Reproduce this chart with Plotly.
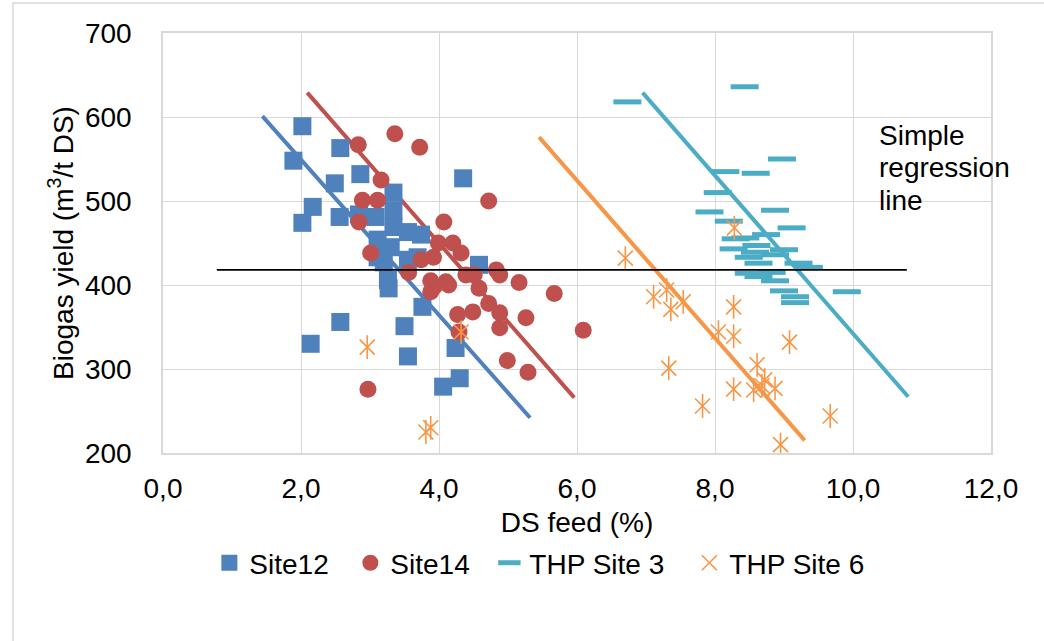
import plotly.graph_objects as go

# ---------------- data ----------------
site12_x = [2.02, 1.89, 2.57, 2.86, 2.49, 2.17, 2.02, 2.56, 2.84, 3.08, 3.34, 3.34, 3.34,
            3.55, 3.74, 3.11, 3.30, 3.11, 3.69, 3.20, 3.55, 3.26, 3.27, 4.35, 4.58, 3.76,
            3.50, 2.57, 2.14, 3.55, 4.24, 4.30, 4.06]
site12_y = [589, 548, 563, 532, 521, 493, 474, 481, 484, 481, 510, 489, 469,
            463, 460, 454, 445, 433, 433, 427, 430, 406, 396, 527, 424, 374,
            351, 356, 330, 315, 325, 289, 279]

site14_x = [2.83, 3.36, 3.72, 3.16, 4.72, 2.89, 3.11, 2.84, 3.01, 4.07, 3.99, 4.20, 4.32,
            3.56, 3.74, 3.92, 3.88, 4.10, 4.39, 4.51, 4.83, 4.88, 4.58, 3.93, 4.14, 3.88,
            5.16, 5.67, 4.72, 4.88, 4.49, 4.27, 5.26, 4.88, 6.09, 4.29, 4.99, 5.29, 2.97]
site14_y = [567, 580, 564, 525, 500, 501, 501, 475, 438, 475, 450, 450, 438,
            415, 430, 433, 405, 404, 412, 412, 418, 412, 396, 398, 400, 392,
            403, 390, 378, 367, 368, 365, 361, 349, 346, 344, 310, 296, 276]

thp3_x = [6.73, 8.43, 8.97, 8.15, 8.59, 8.04, 7.92, 8.87, 8.20, 9.11, 8.44, 8.74, 8.27,
          9.00, 8.58, 8.49, 8.87, 8.63, 9.21, 9.36, 8.49, 8.63, 8.82, 8.87, 9.91, 9.00,
          9.16, 9.16, 8.30, 8.60]
thp3_y = [618, 636, 550, 535, 533, 510, 487, 489, 476, 468, 456, 460, 443,
          442, 439, 433, 436, 426, 426, 421, 414, 410, 415, 405, 392, 393,
          386, 379, 455, 447]

thp6_x = [6.70, 8.28, 7.11, 7.30, 7.36, 7.54, 8.27, 8.05, 8.27, 9.08, 7.33, 8.61, 8.72,
          8.27, 8.56, 8.68, 8.87, 7.82, 9.67, 8.95, 2.96, 4.32, 3.81, 3.88]
thp6_y = [432, 468, 386, 394, 371, 380, 374, 344, 339, 332, 301, 305, 287,
          276, 275, 280, 277, 256, 244, 210, 326, 344, 225, 230]

# regression line end points (x, y)
reg12_x, reg12_y = [1.44, 5.32], [601, 242]
reg14_x, reg14_y = [2.09, 5.96], [629, 266]
reg6_x, reg6_y = [5.45, 9.30], [576, 215]
reg3_x, reg3_y = [6.95, 10.80], [629, 267]
simple_x, simple_y = [0.78, 10.78], [418, 418]

series_names = ["Site12", "Site14", "THP Site 3", "THP Site 6"]
note_lines = ["Simple", "regression", "line"]
x_ticks = [0, 2, 4, 6, 8, 10, 12]
y_ticks = [200, 300, 400, 500, 600, 700]

# ---------------- styles ----------------
BLUE = "#4F81BD"
RED = "#C0504D"
TEAL = "#4BACC6"
ORANGE = "#F79646"
GRID = "#D9D9D9"
FONT = "Liberation Sans, Arial, sans-serif"
FS = 28

fig = go.Figure()

# regression lines (behind markers)
for lx, ly, col in [(reg12_x, reg12_y, BLUE), (reg14_x, reg14_y, RED),
                    (reg6_x, reg6_y, ORANGE), (reg3_x, reg3_y, TEAL)]:
    fig.add_trace(go.Scatter(x=lx, y=ly, mode="lines", showlegend=False,
                             hoverinfo="skip", line=dict(color=col, width=4)))

fig.add_trace(go.Scatter(x=site12_x, y=site12_y, mode="markers", name=series_names[0],
                         legendwidth=96,
                         marker=dict(symbol="square", size=18, color=BLUE)))
fig.add_trace(go.Scatter(x=site14_x, y=site14_y, mode="markers", name=series_names[1],
                         legendwidth=94,
                         marker=dict(symbol="circle", size=17, color=RED)))
fig.add_trace(go.Scatter(x=thp3_x, y=thp3_y, mode="markers", name=series_names[2],
                         legendwidth=155,
                         marker=dict(symbol="line-ew", size=20, color=TEAL,
                                     line=dict(color=TEAL, width=5))))
# asterisk made of an X plus a vertical stroke
fig.add_trace(go.Scatter(x=thp6_x, y=thp6_y, mode="markers", name=series_names[3],
                         legendgroup="thp6", legendwidth=150,
                         marker=dict(symbol="x-thin", size=15, color=ORANGE,
                                     line=dict(color=ORANGE, width=1.6))))
fig.add_trace(go.Scatter(x=thp6_x, y=thp6_y, mode="markers", name=series_names[3],
                         legendgroup="thp6", showlegend=False, hoverinfo="skip",
                         marker=dict(symbol="line-ns", size=17, color=ORANGE,
                                     line=dict(color=ORANGE, width=1.6))))

# simple regression line
fig.add_trace(go.Scatter(x=simple_x, y=simple_y, mode="lines", showlegend=False,
                         hoverinfo="skip", line=dict(color="black", width=1.6)))

for txt, yy in zip(note_lines, [0.755, 0.679, 0.602]):
    fig.add_annotation(x=0.862, y=yy, xref="paper", yref="paper",
                       xanchor="left", yanchor="middle", align="left",
                       text=txt, showarrow=False,
                       font=dict(family=FONT, size=FS, color="black"))

# outer chart border (only left and top edges are visible in the frame)
fig.add_shape(type="rect", xref="paper", yref="paper",
              x0=-150 / 828, x1=(1070 - 163) / 828, y0=-(680 - 453) / 420, y1=1 + 30 / 420,
              line=dict(color=GRID, width=1.5))

fig.update_layout(
    width=1044, height=641,
    margin=dict(l=163, r=53, t=33, b=188),
    paper_bgcolor="white", plot_bgcolor="white",
    separators=", ",
    font=dict(family=FONT, size=FS, color="black"),
    showlegend=True,
    legend=dict(orientation="h", x=0.056, xanchor="left", y=-0.262, yanchor="middle",
                font=dict(family=FONT, size=FS, color="black"),
                itemwidth=30),
    xaxis=dict(range=[0, 12], tickvals=x_ticks, tickformat=".1f",
               showgrid=True, gridcolor=GRID, gridwidth=1.3,
               showline=True, linecolor=GRID, linewidth=1.5, mirror=True,
               zeroline=False, ticks="", tickfont=dict(size=FS), ticklabelstandoff=10,
               title=dict(text="DS feed (%)", font=dict(size=FS), standoff=9)),
    yaxis=dict(range=[200, 700], tickvals=y_ticks,
               showgrid=True, gridcolor=GRID, gridwidth=1.3,
               showline=True, linecolor=GRID, linewidth=1.5, mirror=True,
               zeroline=False, ticks="", tickfont=dict(size=FS), ticklabelstandoff=24,
               title=dict(text="Biogas yield (m<sup>3</sup>/t DS)", font=dict(size=FS), standoff=3)),
)

fig.write_html("out.html")
